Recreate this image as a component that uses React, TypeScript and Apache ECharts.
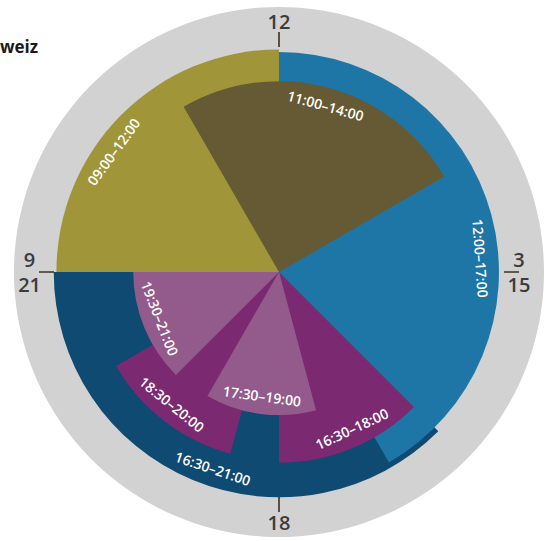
import React, { useEffect, useRef } from 'react';
import * as echarts from 'echarts';

// Time slots (hours, 24h clock) drawn on a 12-hour dial
const slotLabels = ['16:30–21:00', '12:00–17:00', '09:00–12:00', '11:00–14:00', '16:30–18:00', '18:30–20:00', '17:30–19:00', '19:30–21:00'];
const slotStart = [16.5, 12, 9, 11, 16.5, 18.5, 17.5, 19.5];
const slotEnd = [21, 17, 12, 14, 18, 20, 19, 21];
const slotRadius = [85, 83, 84, 72, 72, 71, 54, 55];
// hour on the dial at which each slot's label sits
const slotLabelHour = [18.62, 14.87, 10.2, 12.52, 17.17, 19.3, 18.26, 20.29];
const slotColors = ['#0e4a71', '#1e76a6', '#a09639', '#665a34', '#7b2a71', '#7b2a71', '#935a8c', '#935a8c'];

const faceStart = [0];
const faceEnd = [12];
const faceRadius = [100];

const clockTicks = [0, 3, 6, 9];
const clockTickLabels = ['12', '3\n15', '18', '9\n21'];
const titleText = 'weiz';

const FONT = '"Open Sans", "Noto Sans", sans-serif';

export default function App() {
  const ref = useRef<HTMLDivElement>(null);
  useEffect(() => {
    if (!ref.current) return;
    const chart = echarts.init(ref.current, undefined, { renderer: 'svg' });

    const renderFace = (params: any, api: any) => {
      const s = api.value(0), e = api.value(1), r = api.value(2);
      const a = api.coord([r, s]);
      const b = api.coord([r, e]);
      const cs = params.coordSys;
      return {
        type: 'sector',
        shape: { cx: cs.cx, cy: cs.cy, r0: 0, r: a[2], startAngle: -a[3], endAngle: -b[3], clockwise: true },
        style: { fill: '#d1d2d1' },
      };
    };

    const renderSlot = (params: any, api: any) => {
      const i = params.dataIndex;
      const s = api.value(0), e = api.value(1), r = api.value(2);
      const a = api.coord([r, s]);
      const b = api.coord([r, e]);
      const cs = params.coordSys;
      const children: any[] = [
        {
          type: 'sector',
          shape: { cx: cs.cx, cy: cs.cy, r0: 0, r: a[2], startAngle: -a[3], endAngle: -b[3], clockwise: true },
          style: { fill: slotColors[i] },
        },
      ];
      const m = api.coord([r, slotLabelHour[i]]);
      const lr = m[2] - 18;
      const phi = -m[3];
      const x = cs.cx + lr * Math.cos(phi);
      const y = cs.cy + lr * Math.sin(phi);
      let dir = phi + Math.PI / 2;
      dir = ((dir % (2 * Math.PI)) + 2 * Math.PI) % (2 * Math.PI);
      if (dir > Math.PI / 2 && dir < (3 * Math.PI) / 2) dir -= Math.PI;
      children.push({
        type: 'text',
        x,
        y,
        rotation: -dir,
        z2: 50,
        style: {
          text: slotLabels[i],
          fill: '#ffffff',
          font: `600 14px ${FONT}`,
          align: 'center',
          verticalAlign: 'middle',
        },
      });
      return { type: 'group', children };
    };

    const richBase = {
      align: 'center',
      fontSize: 20,
      fontWeight: 600,
      fontFamily: FONT,
      color: '#3b3c3e',
      lineHeight: 25,
    };

    const option: any = {
      animation: false,
      backgroundColor: '#ffffff',
      polar: [
        { center: [279, 272], radius: 265 },
        { center: [279, 272], radius: 240 },
      ],
      angleAxis: [
        {
          polarIndex: 0,
          type: 'value',
          min: 0,
          max: 12,
          startAngle: 90,
          clockwise: true,
          show: false,
        },
        {
          polarIndex: 1,
          type: 'value',
          min: 0,
          max: 12,
          interval: 3,
          startAngle: 90,
          clockwise: true,
          z: 20,
          axisLine: { show: false },
          splitLine: { show: false },
          axisTick: { show: true, inside: true, length: 15, lineStyle: { color: '#3b3320', width: 1.6 } },
          axisLabel: {
            margin: -2,
            formatter: (v: number) => {
              const k = clockTicks.indexOf(v);
              if (k < 0) return '';
              const key = v === 3 ? 'r' : 'c';
              return clockTickLabels[k]
                .split('\n')
                .map((t) => `{${key}|${t}}`)
                .join('\n');
            },
            rich: {
              c: { ...richBase },
              r: { ...richBase, width: 4 },
            },
          },
        },
      ],
      radiusAxis: [
        { polarIndex: 0, type: 'value', min: 0, max: 100, show: false },
        { polarIndex: 1, type: 'value', min: 0, max: 100, show: false },
      ],
      graphic: [
        {
          type: 'text',
          left: 0,
          top: 38,
          z: 30,
          style: { text: titleText, font: `bold 17px ${FONT}`, fill: '#1a1a1a' },
        },
      ],
      series: [
        {
          type: 'custom',
          name: 'face',
          coordinateSystem: 'polar',
          polarIndex: 0,
          z: 1,
          silent: true,
          renderItem: renderFace,
          encode: { radius: 2, angle: [0, 1] },
          data: faceStart.map((s, i) => [s, faceEnd[i], faceRadius[i]]),
        },
        {
          type: 'custom',
          name: 'slots',
          coordinateSystem: 'polar',
          polarIndex: 0,
          z: 2,
          renderItem: renderSlot,
          encode: { radius: 2, angle: [0, 1] },
          data: slotStart.map((s, i) => [s, slotEnd[i], slotRadius[i]]),
        },
      ],
    };
    chart.setOption(option);
    return () => chart.dispose();
  }, []);

  return <div ref={ref} style={{ position: 'fixed', left: 0, top: 0, width: 547, height: 541 }} />;
}
